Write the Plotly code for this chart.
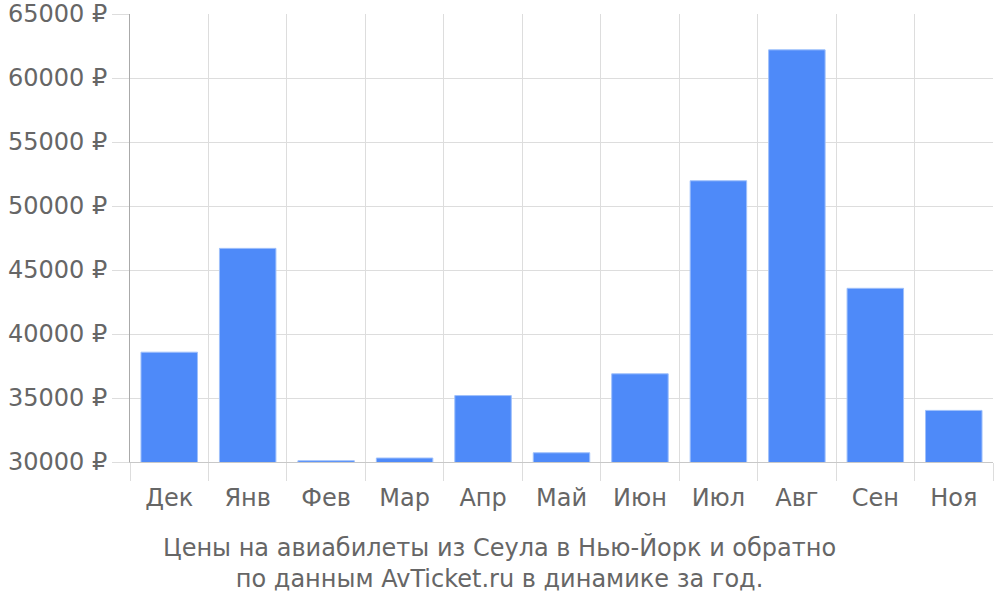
import plotly.graph_objects as go

# months and prices (rub)
months = ["Дек", "Янв", "Фев", "Мар", "Апр", "Май", "Июн", "Июл", "Авг", "Сен", "Ноя"]
prices = [38580, 46690, 30100, 30310, 35190, 30720, 36890, 51970, 62200, 43570, 34030]

y_ticks = [30000, 35000, 40000, 45000, 50000, 55000, 60000, 65000]
caption = "Цены на авиабилеты из Сеула в Нью-Йорк и обратно<br>по данным AvTicket.ru в динамике за год."

grid = "#dddddd"
font = dict(family="DejaVu Sans", size=24, color="#666666")

fig = go.Figure()
fig.add_trace(go.Bar(
    x=months, y=prices,
    base=0,
    marker=dict(color="#4e8af9", line=dict(color="#9fc0fb", width=1)),
))

fig.update_layout(
    width=1000, height=600, autosize=False,
    margin=dict(l=130, r=7, t=14, b=138),
    plot_bgcolor="white", paper_bgcolor="white",
    font=font,
    bargap=0.28,
    showlegend=False,
    xaxis=dict(
        tickson="boundaries", ticks="outside", ticklen=18, tickcolor=grid,
        showgrid=True, gridcolor=grid, gridwidth=1,
        showline=True, linecolor="#c8c8c8",
        tickfont=font, automargin=False, ticklabelstandoff=14,
    ),
    yaxis=dict(
        range=[30000, 65000], tickvals=y_ticks,
        ticktext=[f"{v} ₽" for v in y_ticks],
        ticks="outside", ticklen=17, tickcolor=grid,
        showgrid=True, gridcolor=grid, gridwidth=1,
        showline=True, linecolor="#aaaaaa",
        zeroline=False, tickfont=font, automargin=False,
        ticklabeloverflow="allow",
    ),
)

fig.add_annotation(
    text=caption, xref="paper", yref="paper",
    x=0.4287, y=-0.153, xanchor="center", yanchor="top",
    showarrow=False, font=font,
)

# drop the default body margin so the top tick label is not cut off
fig.write_html(
    "out.html",
    config={"displayModeBar": False},
    post_script="document.body.style.margin='0';",
)
